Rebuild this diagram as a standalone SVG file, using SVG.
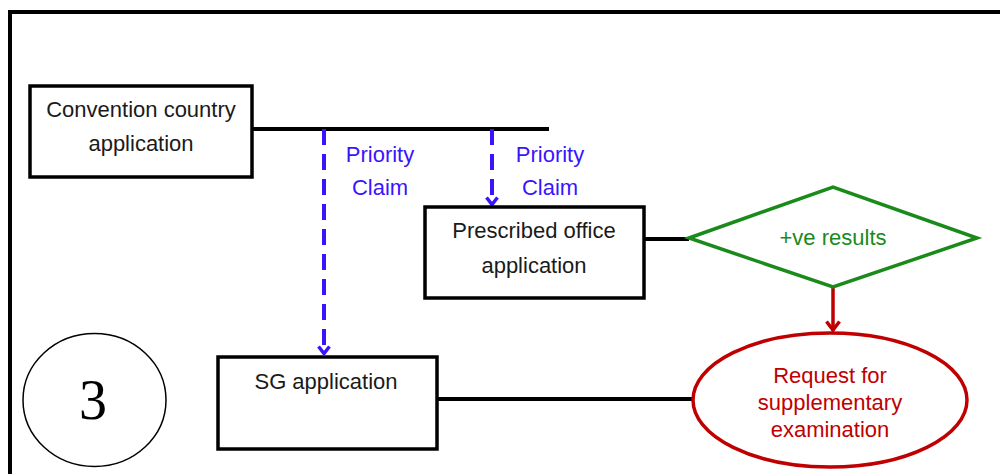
<svg xmlns="http://www.w3.org/2000/svg" width="1000" height="474" viewBox="0 0 1000 474">
<style>
.box{fill:#fff;stroke:#000;stroke-width:3.5}
.t{font-family:"Liberation Sans",Arial,sans-serif;font-size:22px;text-anchor:middle}
.blk{fill:#1a1a1a}
.blue{fill:#3a14ff}
.grn{fill:#1a8a1a}
.red{fill:#c00000}
.ln{stroke:#000;stroke-width:4;fill:none}
.dash{stroke:#3a14ff;stroke-width:4;fill:none;stroke-dasharray:16 9}
</style>
<defs>
<marker id="ab" viewBox="0 0 14 10" refX="7" refY="9" markerWidth="14" markerHeight="10" markerUnits="userSpaceOnUse">
<path d="M1.5,1.5 L7,8.5 L12.5,1.5" fill="none" stroke="#3a14ff" stroke-width="3.5"/>
</marker>
<marker id="ar" viewBox="0 0 16 12" refX="8" refY="11" markerWidth="16" markerHeight="12" markerUnits="userSpaceOnUse">
<path d="M1.5,1.5 L8,10 L14.5,1.5" fill="none" stroke="#c00000" stroke-width="3.5"/>
</marker>
</defs>
<rect width="1000" height="474" fill="#fff"/>
<path d="M10,480 V12 H1006" fill="none" stroke="#000" stroke-width="4"/>
<g id="connectors">
<path class="ln" d="M252,129 H549"/>
<path class="ln" d="M644,239 H689"/>
<path class="ln" d="M437,399 H693"/>
<path class="dash" d="M324,129 V354" marker-end="url(#ab)"/>
<path class="dash" d="M492,129 V205" marker-end="url(#ab)"/>
<path d="M833,287 V331" stroke="#c00000" stroke-width="3.5" fill="none" marker-end="url(#ar)"/>
<text class="t blue" x="380" y="162">Priority</text>
<text class="t blue" x="380" y="195">Claim</text>
<text class="t blue" x="550" y="162">Priority</text>
<text class="t blue" x="550" y="195">Claim</text>
</g>
<g id="convention">
<rect class="box" x="30" y="86" width="222" height="91"/>
<text class="t blk" x="141" y="117">Convention country</text>
<text class="t blk" x="141" y="151">application</text>
</g>
<g id="prescribed">
<rect class="box" x="425" y="207" width="219" height="91"/>
<text class="t blk" x="534" y="238">Prescribed office</text>
<text class="t blk" x="534" y="273">application</text>
</g>
<g id="sg">
<rect class="box" x="218" y="357" width="219" height="92"/>
<text class="t blk" x="326" y="389">SG application</text>
</g>
<g id="results">
<polygon points="689,238 833,187 977,238 833,287" fill="#fff" stroke="#1a8a1a" stroke-width="3.5" stroke-linejoin="miter"/>
<text class="t grn" x="833" y="245">+ve results</text>
</g>
<g id="request">
<ellipse cx="830" cy="400" rx="137" ry="67" fill="#fff" stroke="#c00000" stroke-width="3.5"/>
<text class="t red" x="830" y="383">Request for</text>
<text class="t red" x="830" y="410">supplementary</text>
<text class="t red" x="830" y="437">examination</text>
</g>
<g id="step3">
<ellipse cx="94.5" cy="400" rx="71.5" ry="66.5" fill="#fff" stroke="#000" stroke-width="1.5"/>
<text x="93" y="419" font-family="'Liberation Serif','Times New Roman',serif" font-size="56" text-anchor="middle" fill="#000">3</text>
</g>
</svg>
